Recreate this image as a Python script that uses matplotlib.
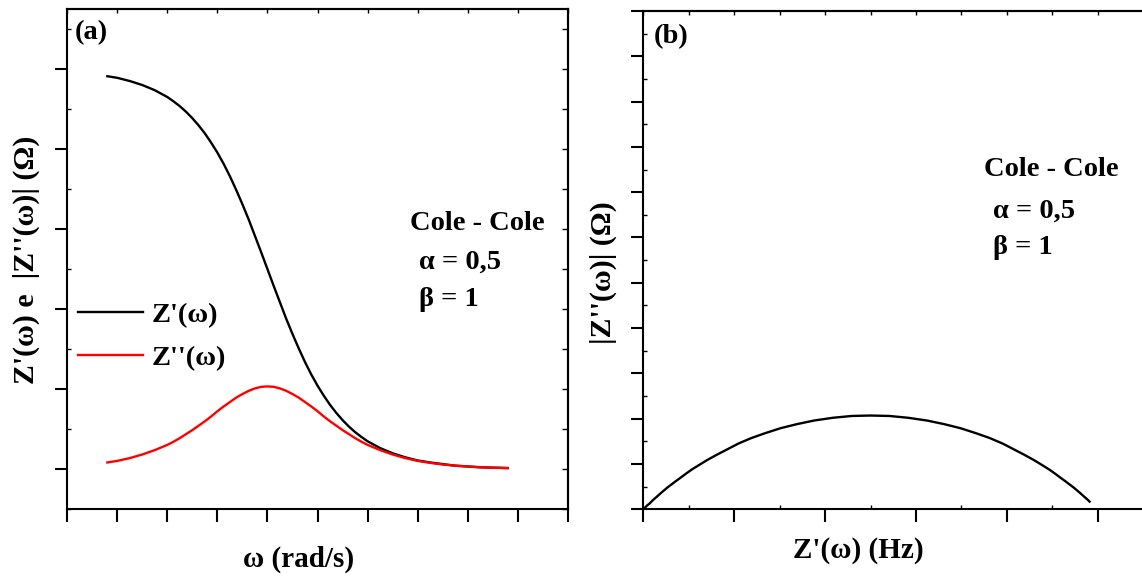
import matplotlib
matplotlib.use('Agg')
import matplotlib.pyplot as plt
from matplotlib.ticker import MultipleLocator, NullLocator

plt.rcParams['font.family'] = ['Liberation Serif', 'DejaVu Serif']
plt.rcParams['font.weight'] = 'bold'

# log10(w*tau), read along the x axis of panel (a)
log_w = [-3.2, -3.0, -2.75, -2.5, -2.25, -2.0, -1.875, -1.75, -1.625, -1.5,
         -1.375, -1.25, -1.125, -1.0, -0.875, -0.75, -0.625, -0.5, -0.375,
         -0.25, -0.125, 0.0, 0.125, 0.25, 0.375, 0.5, 0.625, 0.75, 0.875, 1.0,
         1.125, 1.25, 1.375, 1.5, 1.625, 1.75, 1.875, 2.0, 2.25, 2.5, 2.75,
         3.0, 3.25, 3.5, 3.75, 4.0, 4.25, 4.5, 4.8]
# Z'(w) normalizado
z_re = [0.982, 0.978, 0.970, 0.960, 0.947, 0.930, 0.919, 0.907, 0.893, 0.877,
        0.859, 0.839, 0.816, 0.791, 0.763, 0.732, 0.698, 0.662, 0.624, 0.583,
        0.542, 0.500, 0.458, 0.417, 0.376, 0.338, 0.302, 0.268, 0.237, 0.209,
        0.184, 0.161, 0.141, 0.123, 0.107, 0.093, 0.081, 0.070, 0.053, 0.040,
        0.030, 0.022, 0.017, 0.013, 0.009, 0.007, 0.005, 0.004, 0.003]
# |Z''(w)| normalizado
z_im = [0.017, 0.021, 0.028, 0.037, 0.048, 0.061, 0.069, 0.078, 0.088, 0.098,
        0.109, 0.120, 0.132, 0.145, 0.157, 0.168, 0.179, 0.188, 0.196, 0.202,
        0.206, 0.207, 0.206, 0.202, 0.196, 0.188, 0.179, 0.168, 0.157, 0.145,
        0.132, 0.120, 0.109, 0.098, 0.088, 0.078, 0.069, 0.061, 0.048, 0.037,
        0.028, 0.021, 0.016, 0.012, 0.009, 0.007, 0.005, 0.004, 0.003]

W, H = 1142, 576
FS = 20.5
fig = plt.figure(figsize=(W/100, H/100), dpi=100)

def fpos(x, y):
    return x/W, 1 - y/H

ax1 = fig.add_axes([67.3/W, (H-509.3)/H, 500.4/W, 500.3/H])
ax2 = fig.add_axes([643.3/W, (H-509.3)/H, 499.9/W, 498.3/H])

ax1.plot(log_w, z_re, color='black', lw=1.7, label="Z'(ω)")
ax1.plot(log_w, z_im, color='red', lw=1.7, label="Z''(ω)")
ax1.set_xlim(-4, 6)
ax1.set_ylim(-0.1, 1.15)

ax2.plot(z_re, z_im, color='black', lw=1.7)
ax2.set_xlim(0, 1.1)
ax2.set_ylim(0, 1.1)

for ax in (ax1, ax2):
    for s in ax.spines.values():
        s.set_linewidth(1.5)
    ax.tick_params(which='major', direction='out', length=9, width=1.5,
                   labelbottom=False, labelleft=False)
    ax.tick_params(which='minor', direction='in', length=3, width=1)

ax1.xaxis.set_major_locator(MultipleLocator(1))
ax1.xaxis.set_minor_locator(NullLocator())
ax1.yaxis.set_major_locator(MultipleLocator(0.2))
ax1.yaxis.set_minor_locator(MultipleLocator(0.1))

ax2.xaxis.set_major_locator(MultipleLocator(0.2))
ax2.xaxis.set_minor_locator(MultipleLocator(0.1))
ax2.yaxis.set_major_locator(MultipleLocator(0.1))
ax2.yaxis.set_minor_locator(MultipleLocator(0.05))

# ticks hacia adentro arriba y a la derecha
top1 = ax1.secondary_xaxis('top')
top1.xaxis.set_major_locator(MultipleLocator(1))
top1.tick_params(direction='in', length=3, width=1, labeltop=False)
right1 = ax1.secondary_yaxis('right')
right1.yaxis.set_major_locator(MultipleLocator(0.1))
right1.tick_params(direction='in', length=4, width=1, labelright=False)
top2 = ax2.secondary_xaxis('top')
top2.xaxis.set_major_locator(MultipleLocator(0.1))
top2.tick_params(direction='in', length=3, width=1, labeltop=False)
for sec in (top1, right1, top2):
    for s in sec.spines.values():
        s.set_linewidth(1.5)

ax1.legend(loc='center left', bbox_to_anchor=(0.021, 0.345), frameon=False,
           borderpad=0, borderaxespad=0, handlelength=2.3, handletextpad=0.3,
           labelspacing=0.6, prop={'size': FS, 'weight': 'bold'})

fig.text(*fpos(75, 33), '(a)', fontsize=FS, va='center', ha='left')
fig.text(*fpos(654, 37), '(b)', fontsize=FS, va='center', ha='left')

fig.text(*fpos(410, 223), 'Cole - Cole', fontsize=FS, va='center', ha='left')
fig.text(*fpos(419, 262), 'α = 0,5', fontsize=FS, va='center', ha='left')
fig.text(*fpos(419, 300), 'β = 1', fontsize=FS, va='center', ha='left')
fig.text(*fpos(984, 170), 'Cole - Cole', fontsize=FS, va='center', ha='left')
fig.text(*fpos(993, 211), 'α = 0,5', fontsize=FS, va='center', ha='left')
fig.text(*fpos(993, 248), 'β = 1', fontsize=FS, va='center', ha='left')

fig.text(*fpos(298.5, 559), 'ω (rad/s)', fontsize=21, va='center', ha='center')
fig.text(*fpos(858, 551), "Z'(ω) (Hz)", fontsize=21, va='center', ha='center')
fig.text(*fpos(26, 260), "Z'(ω) e  |Z''(ω)| (Ω)", fontsize=21.5, va='center',
         ha='center', rotation=90)
fig.text(*fpos(603, 273), "|Z''(ω)| (Ω)", fontsize=21.5, va='center',
         ha='center', rotation=90)

fig.savefig('out.png', dpi=100)
